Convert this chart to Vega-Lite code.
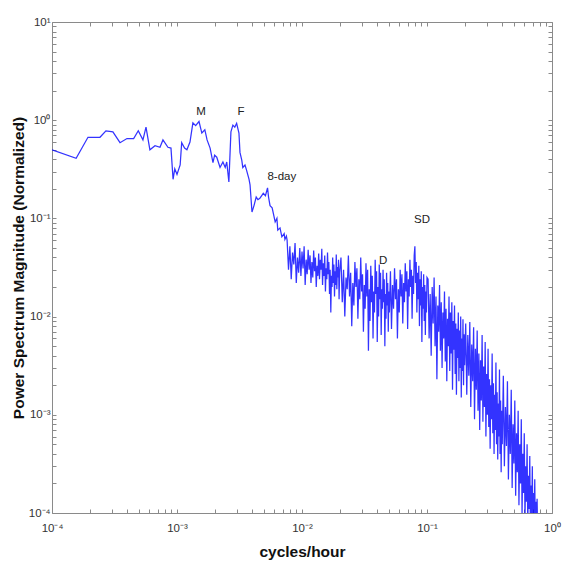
{
"$schema": "https://vega.github.io/schema/vega-lite/v6.json",
"width": 500, "height": 491,
"autosize": "none",
"padding": {"left": 52, "top": 22, "right": 11, "bottom": 48},
"background": "white",
"config": {"view": {"stroke": null}, "font": "Liberation Sans",
 "axis": {"grid": false, "domainColor": "#8a8a8a", "tickColor": "#8a8a8a", "labelColor": "#333333", "labelFontSize": 11.5, "labelFont": "Liberation Sans", "labelOverlap": false, "labelFlush": false, "tickSize": -4, "titleFont": "Liberation Sans", "titleFontSize": 15.5, "titleFontWeight": "bold", "titleColor": "#111111"}},
"resolve": {"axis": {"x": "independent", "y": "independent"}},
"layer": [
{"data": {"values": [
{"f":0.0001,"p":0.5},{"f":0.000156,"p":0.41},{"f":0.000194,"p":0.67},{"f":0.000242,"p":0.67},{"f":0.00027,"p":0.78},{"f":0.000307,"p":0.76},{"f":0.00035,"p":0.59},{"f":0.000398,"p":0.65},{"f":0.00045,"p":0.65},{"f":0.00049,"p":0.78},{"f":0.000534,"p":0.63},{"f":0.000565,"p":0.85},{"f":0.000607,"p":0.5},{"f":0.000667,"p":0.55},{"f":0.000731,"p":0.53},{"f":0.000772,"p":0.63},{"f":0.000846,"p":0.53},{"f":0.000895,"p":0.52},{"f":0.00093,"p":0.25},{"f":0.00096,"p":0.32},{"f":0.001,"p":0.28},{"f":0.00106,"p":0.35},{"f":0.00109,"p":0.59},{"f":0.00115,"p":0.52},{"f":0.0012,"p":0.5},{"f":0.00127,"p":0.6},{"f":0.00134,"p":0.94},{"f":0.00141,"p":0.88},{"f":0.0015,"p":0.97},{"f":0.00158,"p":0.74},{"f":0.00167,"p":0.8},{"f":0.00174,"p":0.63},{"f":0.00184,"p":0.52},{"f":0.00194,"p":0.37},{"f":0.002,"p":0.44},{"f":0.00208,"p":0.42},{"f":0.00221,"p":0.33},{"f":0.00233,"p":0.375},{"f":0.00243,"p":0.33},{"f":0.0025,"p":0.375},{"f":0.0026,"p":0.235},{"f":0.0027,"p":0.76},{"f":0.0028,"p":0.89},{"f":0.0029,"p":0.85},{"f":0.003,"p":0.93},{"f":0.00313,"p":0.74},{"f":0.00319,"p":0.47},{"f":0.0033,"p":0.39},{"f":0.00336,"p":0.33},{"f":0.0035,"p":0.35},{"f":0.0036,"p":0.31},{"f":0.00377,"p":0.25},{"f":0.00384,"p":0.22},{"f":0.00398,"p":0.116},{"f":0.00413,"p":0.135},{"f":0.0043,"p":0.165},{"f":0.00444,"p":0.155},{"f":0.0046,"p":0.16},{"f":0.0049,"p":0.18},{"f":0.0051,"p":0.17},{"f":0.0053,"p":0.205},{"f":0.0054,"p":0.165},{"f":0.00555,"p":0.135},{"f":0.00577,"p":0.128},{"f":0.0061,"p":0.092},{"f":0.0063,"p":0.1},{"f":0.0064,"p":0.076},{"f":0.00667,"p":0.08},{"f":0.0069,"p":0.065},{"f":0.0072,"p":0.07},{"f":0.0073,"p":0.061},{"f":0.0075,"p":0.066},
{"f":0.0076,"p":0.06},{"f":0.0078,"p":0.03},{"f":0.008,"p":0.052},{"f":0.0082,"p":0.024},{"f":0.0084,"p":0.045},{"f":0.0086,"p":0.034},{"f":0.0088,"p":0.056},{"f":0.009,"p":0.022},{"f":0.0092,"p":0.04},{"f":0.0094,"p":0.028},{"f":0.0096,"p":0.05},{"f":0.0098,"p":0.026},{"f":0.01,"p":0.046},{"f":0.0102,"p":0.031},{"f":0.0104,"p":0.052},{"f":0.0106,"p":0.021},{"f":0.0108,"p":0.038},{"f":0.011,"p":0.027},{"f":0.0112,"p":0.048},{"f":0.0114,"p":0.03},{"f":0.0116,"p":0.042},{"f":0.0118,"p":0.022},{"f":0.012,"p":0.036},{"f":0.0122,"p":0.025},{"f":0.0124,"p":0.047},{"f":0.0126,"p":0.029},{"f":0.0128,"p":0.04},{"f":0.013,"p":0.02},{"f":0.0132,"p":0.033},{"f":0.0134,"p":0.026},{"f":0.0136,"p":0.044},{"f":0.0138,"p":0.024},{"f":0.014,"p":0.038},{"f":0.0142,"p":0.03},{"f":0.0144,"p":0.049},{"f":0.0146,"p":0.021},{"f":0.0148,"p":0.035},{"f":0.015,"p":0.026},{"f":0.0152,"p":0.042},{"f":0.0154,"p":0.018},{"f":0.0156,"p":0.031},{"f":0.0158,"p":0.024},{"f":0.016,"p":0.045},{"f":0.0162,"p":0.027},{"f":0.0164,"p":0.036},{"f":0.0166,"p":0.017},{"f":0.0168,"p":0.03},{"f":0.017,"p":0.011},{"f":0.0172,"p":0.026},{"f":0.0174,"p":0.02},{"f":0.0176,"p":0.04},{"f":0.0178,"p":0.022},{"f":0.018,"p":0.034},{"f":0.0182,"p":0.016},{"f":0.0184,"p":0.029},{"f":0.0186,"p":0.021},{"f":0.0188,"p":0.043},{"f":0.019,"p":0.019},{"f":0.0192,"p":0.032},{"f":0.0194,"p":0.025},{"f":0.0196,"p":0.038},{"f":0.0198,"p":0.015},{"f":0.02,"p":0.028},
{"f":0.0205,"p":0.04},{"f":0.021,"p":0.014},{"f":0.0215,"p":0.03},{"f":0.022,"p":0.01},{"f":0.0225,"p":0.025},{"f":0.023,"p":0.019},{"f":0.0235,"p":0.042},{"f":0.024,"p":0.016},{"f":0.0245,"p":0.028},{"f":0.025,"p":0.008},{"f":0.0255,"p":0.022},{"f":0.026,"p":0.013},{"f":0.0265,"p":0.036},{"f":0.027,"p":0.02},{"f":0.0275,"p":0.031},{"f":0.028,"p":0.0095},{"f":0.0285,"p":0.024},{"f":0.029,"p":0.015},{"f":0.0295,"p":0.04},{"f":0.03,"p":0.018},{"f":0.0305,"p":0.027},{"f":0.031,"p":0.007},{"f":0.0315,"p":0.021},{"f":0.032,"p":0.012},{"f":0.0325,"p":0.035},{"f":0.033,"p":0.016},{"f":0.0335,"p":0.03},{"f":0.034,"p":0.0045},{"f":0.0345,"p":0.019},{"f":0.035,"p":0.009},{"f":0.0355,"p":0.033},{"f":0.036,"p":0.014},{"f":0.0365,"p":0.026},{"f":0.037,"p":0.006},{"f":0.0375,"p":0.018},{"f":0.038,"p":0.011},{"f":0.0385,"p":0.038},{"f":0.039,"p":0.017},{"f":0.0395,"p":0.029},{"f":0.04,"p":0.0055},{"f":0.0405,"p":0.02},{"f":0.041,"p":0.01},{"f":0.0415,"p":0.034},{"f":0.042,"p":0.015},{"f":0.0425,"p":0.028},{"f":0.043,"p":0.0065},{"f":0.0435,"p":0.019},{"f":0.044,"p":0.012},{"f":0.0445,"p":0.03},{"f":0.045,"p":0.014},{"f":0.0455,"p":0.024},{"f":0.046,"p":0.005},{"f":0.0465,"p":0.017},{"f":0.047,"p":0.0095},{"f":0.0475,"p":0.028},{"f":0.048,"p":0.013},{"f":0.0485,"p":0.022},{"f":0.049,"p":0.007},{"f":0.0495,"p":0.018},{"f":0.05,"p":0.011},
{"f":0.051,"p":0.029},{"f":0.052,"p":0.0075},{"f":0.053,"p":0.021},{"f":0.054,"p":0.012},{"f":0.055,"p":0.031},{"f":0.056,"p":0.015},{"f":0.057,"p":0.024},{"f":0.058,"p":0.006},{"f":0.059,"p":0.019},{"f":0.06,"p":0.011},{"f":0.061,"p":0.03},{"f":0.062,"p":0.016},{"f":0.063,"p":0.027},{"f":0.064,"p":0.0085},{"f":0.065,"p":0.022},{"f":0.066,"p":0.014},{"f":0.067,"p":0.035},{"f":0.068,"p":0.018},{"f":0.069,"p":0.029},{"f":0.07,"p":0.0075},{"f":0.071,"p":0.024},{"f":0.072,"p":0.016},{"f":0.073,"p":0.038},{"f":0.074,"p":0.02},{"f":0.075,"p":0.03},{"f":0.076,"p":0.0095},{"f":0.077,"p":0.026},{"f":0.078,"p":0.017},{"f":0.079,"p":0.042},{"f":0.08,"p":0.052},{"f":0.081,"p":0.022},{"f":0.082,"p":0.036},{"f":0.083,"p":0.011},{"f":0.084,"p":0.028},{"f":0.085,"p":0.015},{"f":0.086,"p":0.033},{"f":0.087,"p":0.008},{"f":0.088,"p":0.024},{"f":0.089,"p":0.013},{"f":0.09,"p":0.029},{"f":0.091,"p":0.0055},{"f":0.092,"p":0.02},{"f":0.093,"p":0.012},{"f":0.094,"p":0.027},{"f":0.095,"p":0.009},{"f":0.096,"p":0.021},{"f":0.097,"p":0.0065},{"f":0.098,"p":0.018},{"f":0.099,"p":0.011},{"f":0.1,"p":0.025},
{"f":0.102,"p":0.024},{"f":0.104,"p":0.006},{"f":0.106,"p":0.017},{"f":0.108,"p":0.004},{"f":0.11,"p":0.02},{"f":0.112,"p":0.0085},{"f":0.114,"p":0.025},{"f":0.116,"p":0.005},{"f":0.118,"p":0.016},{"f":0.12,"p":0.0023},{"f":0.122,"p":0.013},{"f":0.124,"p":0.007},{"f":0.126,"p":0.021},{"f":0.128,"p":0.0045},{"f":0.13,"p":0.014},{"f":0.132,"p":0.003},{"f":0.134,"p":0.011},{"f":0.136,"p":0.006},{"f":0.138,"p":0.018},{"f":0.14,"p":0.0035},{"f":0.142,"p":0.012},{"f":0.144,"p":0.0022},{"f":0.146,"p":0.0095},{"f":0.148,"p":0.005},{"f":0.15,"p":0.016},{"f":0.152,"p":0.0028},{"f":0.154,"p":0.011},{"f":0.156,"p":0.0042},{"f":0.158,"p":0.014},{"f":0.16,"p":0.0018},{"f":0.162,"p":0.009},{"f":0.164,"p":0.0046},{"f":0.166,"p":0.013},{"f":0.168,"p":0.0026},{"f":0.17,"p":0.0085},{"f":0.172,"p":0.0016},{"f":0.174,"p":0.0075},{"f":0.176,"p":0.0038},{"f":0.178,"p":0.011},{"f":0.18,"p":0.0022},{"f":0.182,"p":0.0072},{"f":0.184,"p":0.003},{"f":0.186,"p":0.01},{"f":0.188,"p":0.0015},{"f":0.19,"p":0.006},{"f":0.192,"p":0.0028},{"f":0.194,"p":0.0094},{"f":0.196,"p":0.002},{"f":0.198,"p":0.0066},{"f":0.2,"p":0.0032},
{"f":0.204,"p":0.0085},{"f":0.208,"p":0.0016},{"f":0.212,"p":0.0065},{"f":0.216,"p":0.0025},{"f":0.22,"p":0.0088},{"f":0.224,"p":0.0012},{"f":0.228,"p":0.0052},{"f":0.232,"p":0.0022},{"f":0.236,"p":0.0078},{"f":0.24,"p":0.0009},{"f":0.244,"p":0.0047},{"f":0.248,"p":0.0018},{"f":0.252,"p":0.0072},{"f":0.256,"p":0.0011},{"f":0.26,"p":0.0042},{"f":0.264,"p":0.0007},{"f":0.268,"p":0.0036},{"f":0.272,"p":0.0014},{"f":0.276,"p":0.0065},{"f":0.28,"p":0.00085},{"f":0.284,"p":0.0031},{"f":0.288,"p":0.0012},{"f":0.292,"p":0.0055},{"f":0.296,"p":0.0006},{"f":0.3,"p":0.0026},{"f":0.304,"p":0.001},{"f":0.308,"p":0.0047},{"f":0.312,"p":0.00075},{"f":0.316,"p":0.0023},{"f":0.32,"p":0.00045},{"f":0.324,"p":0.002},{"f":0.328,"p":0.0009},{"f":0.332,"p":0.0042},{"f":0.336,"p":0.00065},{"f":0.34,"p":0.0021},{"f":0.344,"p":0.0004},{"f":0.348,"p":0.0016},{"f":0.352,"p":0.0007},{"f":0.356,"p":0.0034},{"f":0.36,"p":0.0005},{"f":0.364,"p":0.0017},{"f":0.368,"p":0.00035},{"f":0.372,"p":0.0013},{"f":0.376,"p":0.0006},{"f":0.38,"p":0.0029},{"f":0.384,"p":0.0004},{"f":0.388,"p":0.0014},{"f":0.392,"p":0.00026},{"f":0.396,"p":0.0011},{"f":0.4,"p":0.0005},
{"f":0.408,"p":0.0025},{"f":0.416,"p":0.0003},{"f":0.424,"p":0.0012},{"f":0.432,"p":0.00048},{"f":0.44,"p":0.0022},{"f":0.448,"p":0.00022},{"f":0.456,"p":0.001},{"f":0.464,"p":0.0004},{"f":0.472,"p":0.0018},{"f":0.48,"p":0.00018},{"f":0.488,"p":0.0008},{"f":0.496,"p":0.00032},{"f":0.504,"p":0.0014},{"f":0.512,"p":0.00015},{"f":0.52,"p":0.00065},{"f":0.528,"p":0.00026},{"f":0.536,"p":0.0011},{"f":0.544,"p":0.00012},{"f":0.552,"p":0.0005},{"f":0.56,"p":0.0002},{"f":0.568,"p":0.0009},{"f":0.576,"p":0.000095},{"f":0.584,"p":0.0004},{"f":0.592,"p":0.00016},{"f":0.6,"p":0.00065},{"f":0.608,"p":0.000085},{"f":0.616,"p":0.0003},{"f":0.624,"p":0.00013},{"f":0.632,"p":0.0005},{"f":0.64,"p":0.00007},{"f":0.648,"p":0.00024},{"f":0.656,"p":0.00011},{"f":0.664,"p":0.00038},{"f":0.672,"p":0.00006},{"f":0.68,"p":0.00019},{"f":0.688,"p":0.00009},{"f":0.696,"p":0.0003},{"f":0.704,"p":0.00005},{"f":0.712,"p":0.00016},{"f":0.72,"p":0.00008},{"f":0.728,"p":0.00022},{"f":0.736,"p":0.00005},{"f":0.744,"p":0.00013},{"f":0.752,"p":0.00007},{"f":0.76,"p":0.00014},{"f":0.77,"p":0.00005}
]},
 "mark": {"type": "line", "color": "#0000ff", "strokeWidth": 1.25, "opacity": 0.8, "clip": true},
 "encoding": {
  "x": {"field": "f", "type": "quantitative", "scale": {"type": "log", "domain": [0.0001, 1]},
   "axis": {"orient": "bottom", "title": "cycles/hour", "titlePadding": 11, "labelPadding": 13,
    "values": [0.0001,0.0002,0.0003,0.0004,0.0005,0.0006,0.0007,0.0008,0.0009,0.001,0.002,0.003,0.004,0.005,0.006,0.007,0.008,0.009,0.01,0.02,0.03,0.04,0.05,0.06,0.07,0.08,0.09,0.1,0.2,0.3,0.4,0.5,0.6,0.7,0.8,0.9,1],
    "labelExpr": "datum.value==0.0001?'10⁻⁴':datum.value==0.001?'10⁻³':datum.value==0.01?'10⁻²':datum.value==0.1?'10⁻¹':datum.value==1?'10⁰':''"}},
  "y": {"field": "p", "type": "quantitative", "scale": {"type": "log", "domain": [0.0001, 10]},
   "axis": {"orient": "left", "title": "Power Spectrum Magnitude (Normalized)", "titlePadding": 2, "labelPadding": 6,
    "values": [0.0001,0.0002,0.0003,0.0004,0.0005,0.0006,0.0007,0.0008,0.0009,0.001,0.002,0.003,0.004,0.005,0.006,0.007,0.008,0.009,0.01,0.02,0.03,0.04,0.05,0.06,0.07,0.08,0.09,0.1,0.2,0.3,0.4,0.5,0.6,0.7,0.8,0.9,1,2,3,4,5,6,7,8,9,10],
    "labelExpr": "datum.value==0.0001?'10⁻⁴':datum.value==0.001?'10⁻³':datum.value==0.01?'10⁻²':datum.value==0.1?'10⁻¹':datum.value==1?'10⁰':datum.value==10?'10¹':''"}}
 }},
{"data": {"values": [
 {"f": 0.001556, "p": 1.21, "t": "M"},
 {"f": 0.00325, "p": 1.21, "t": "F"},
 {"f": 0.0069, "p": 0.264, "t": "8-day"},
 {"f": 0.0445, "p": 0.0368, "t": "D"},
 {"f": 0.0912, "p": 0.0964, "t": "SD"}
 ]},
 "mark": {"type": "text", "fontSize": 11.5, "color": "#222222", "font": "Liberation Sans", "baseline": "middle", "align": "center"},
 "encoding": {
  "x": {"field": "f", "type": "quantitative", "scale": {"type": "log", "domain": [0.0001, 1]},
   "axis": {"orient": "top", "title": null, "labels": false,
    "values": [0.0001,0.0002,0.0003,0.0004,0.0005,0.0006,0.0007,0.0008,0.0009,0.001,0.002,0.003,0.004,0.005,0.006,0.007,0.008,0.009,0.01,0.02,0.03,0.04,0.05,0.06,0.07,0.08,0.09,0.1,0.2,0.3,0.4,0.5,0.6,0.7,0.8,0.9,1]}},
  "y": {"field": "p", "type": "quantitative", "scale": {"type": "log", "domain": [0.0001, 10]},
   "axis": {"orient": "right", "title": null, "labels": false,
    "values": [0.0001,0.0002,0.0003,0.0004,0.0005,0.0006,0.0007,0.0008,0.0009,0.001,0.002,0.003,0.004,0.005,0.006,0.007,0.008,0.009,0.01,0.02,0.03,0.04,0.05,0.06,0.07,0.08,0.09,0.1,0.2,0.3,0.4,0.5,0.6,0.7,0.8,0.9,1,2,3,4,5,6,7,8,9,10]}},
  "text": {"field": "t", "type": "nominal"}
 }}
]
}
